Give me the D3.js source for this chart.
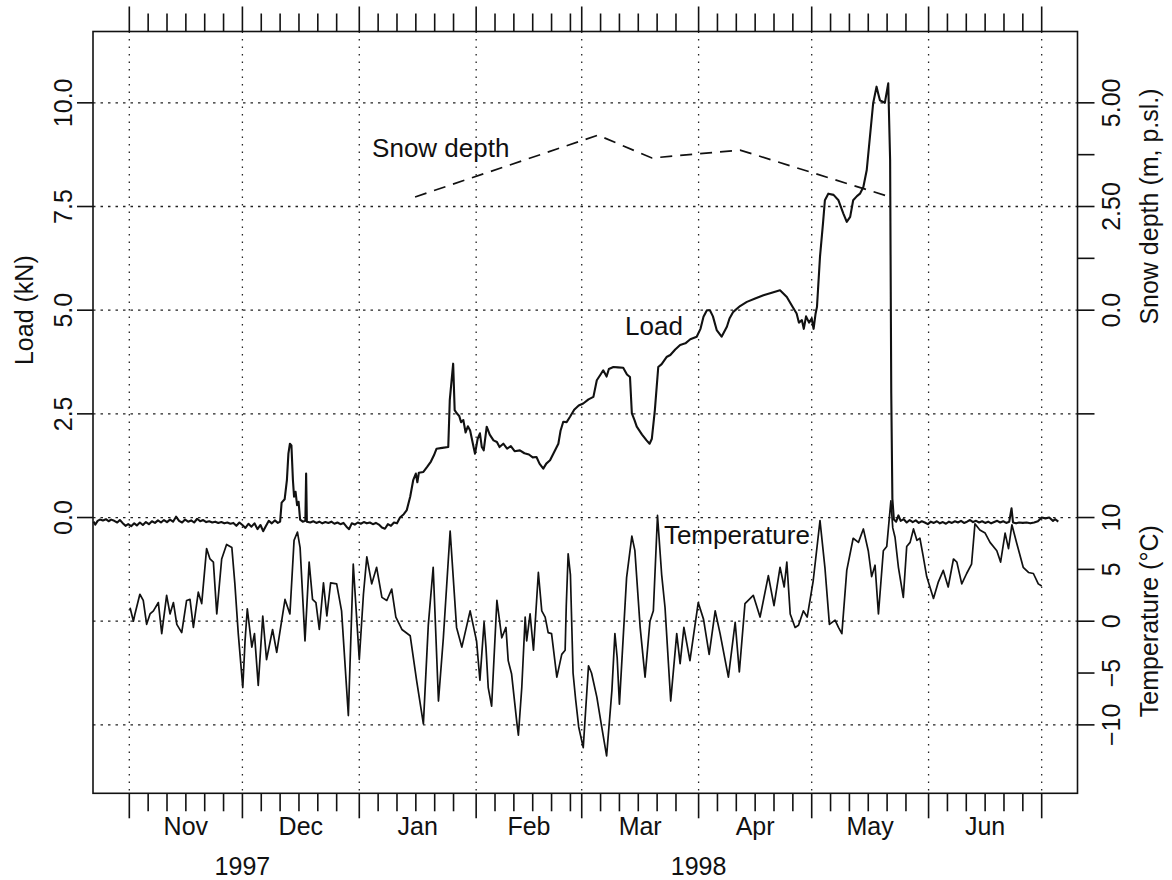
<!DOCTYPE html>
<html>
<head>
<meta charset="utf-8">
<script src="https://cdn.jsdelivr.net/npm/d3@7"></script>
<style>
  body { margin: 0; background: #fff; }
  svg { display: block; font-family: "Liberation Sans", Arial, Helvetica, sans-serif; }
</style>
</head>
<body>
<div id="chart"></div>
<script>
// time is kept as days counted from 1 Nov 1997 (logger day number)
const recordStart = Date.UTC(1997, 10, 1);

// load on the anchor (kN)
const loadSeries = [
  [-9.5, -0.10], [-9.0, -0.17], [-8.4, -0.08], [-7.8, -0.05], [-7.0, -0.07], [-6.2, -0.04], [-5.5, -0.09],
  [-4.8, -0.05], [-4.0, -0.08], [-3.2, -0.12], [-2.5, -0.06], [-1.8, -0.13], [-1.0, -0.20], [-0.3, -0.16],
  [0.5, -0.21], [1.3, -0.14], [2.0, -0.19], [2.8, -0.12], [3.6, -0.18], [4.4, -0.11], [5.2, -0.16],
  [6.0, -0.09], [6.8, -0.13], [7.6, -0.07], [8.4, -0.12], [9.2, -0.06], [10.0, -0.11], [10.8, -0.05],
  [11.6, -0.10], [12.4, 0.02], [13.2, -0.08], [14.0, -0.12], [14.8, -0.05], [15.6, -0.10], [16.4, -0.07],
  [17.2, -0.12], [18.0, -0.03], [18.8, -0.09], [19.6, -0.06], [20.4, -0.11], [21.2, -0.09], [22.0, -0.12],
  [22.8, -0.10], [23.6, -0.13], [24.4, -0.11], [25.2, -0.14], [26.0, -0.12], [26.8, -0.15], [27.6, -0.13],
  [28.4, -0.20], [29.2, -0.12], [30.0, -0.18], [30.8, -0.25], [31.6, -0.15], [32.4, -0.22], [33.2, -0.14],
  [34.0, -0.28], [34.8, -0.18], [35.5, -0.33], [36.2, -0.21], [37.0, -0.08], [37.8, -0.14], [38.6, -0.07],
  [39.4, -0.13], [40.0, -0.10], [40.4, 0.36], [41.2, 0.44], [41.8, 0.90], [42.2, 1.54], [42.6, 1.78],
  [43.0, 1.74], [43.4, 0.90], [43.7, 0.50], [44.1, 0.62], [44.5, 0.30], [44.9, 0.38], [45.3, -0.05],
  [46.0, -0.10], [46.7, -0.08], [46.9, 1.06], [47.1, -0.10], [48.0, -0.12], [48.8, -0.09], [49.6, -0.13],
  [50.4, -0.10], [51.2, -0.14], [52.0, -0.11], [52.8, -0.13], [53.6, -0.10], [54.4, -0.15], [55.2, -0.12],
  [56.0, -0.16], [56.8, -0.13], [57.6, -0.22], [58.3, -0.28], [59.0, -0.14], [59.8, -0.17], [60.6, -0.12],
  [61.4, -0.15], [62.2, -0.11], [63.0, -0.14], [63.8, -0.12], [64.6, -0.16], [65.4, -0.13], [66.2, -0.17],
  [67.0, -0.24], [67.8, -0.27], [68.6, -0.16], [69.4, -0.20], [70.2, -0.12], [71.0, -0.14], [71.8, 0.00],
  [72.8, 0.08], [73.6, 0.18], [74.5, 0.50], [75.3, 0.90], [76.0, 1.06], [76.4, 0.85], [76.8, 1.08],
  [78.0, 1.10], [79.0, 1.22], [80.0, 1.35], [80.8, 1.50], [81.5, 1.66], [83.0, 1.68], [84.6, 1.70],
  [85.0, 2.83], [85.9, 3.71], [86.3, 2.59], [86.8, 2.52], [87.5, 2.45], [88.0, 2.30], [88.6, 2.35],
  [89.2, 2.05], [89.8, 2.20], [90.4, 2.10], [91.2, 1.75], [91.7, 1.54], [92.4, 1.90], [93.0, 2.03],
  [93.5, 1.70], [94.0, 1.62], [94.8, 2.19], [95.6, 2.00], [96.6, 1.86], [97.5, 1.82], [98.2, 1.70],
  [99.2, 1.78], [100.2, 1.66], [101.2, 1.72], [102.2, 1.60], [103.6, 1.62], [104.8, 1.55], [106.0, 1.52],
  [107.0, 1.45], [108.0, 1.46], [108.8, 1.30], [109.8, 1.18], [110.6, 1.30], [111.6, 1.38], [112.8, 1.60],
  [113.8, 1.78], [114.4, 2.10], [115.1, 2.31], [116.0, 2.30], [116.9, 2.43], [118.0, 2.60], [119.2, 2.70],
  [120.4, 2.75], [121.8, 2.85], [123.1, 2.91], [124.0, 3.31], [125.0, 3.45], [125.7, 3.55], [126.6, 3.40],
  [127.2, 3.58], [128.4, 3.63], [129.6, 3.62], [131.0, 3.61], [132.0, 3.45], [132.8, 3.39], [133.3, 2.51],
  [134.0, 2.35], [134.6, 2.19], [136.0, 2.00], [137.2, 1.86], [138.0, 1.78], [138.6, 1.90], [139.4, 2.59],
  [140.3, 3.63], [141.2, 3.70], [142.5, 3.87], [143.5, 3.92], [144.8, 4.05], [146.1, 4.16], [147.5, 4.20],
  [148.8, 4.30], [150.5, 4.36], [151.5, 4.55], [152.3, 4.84], [153.2, 5.00], [154.0, 5.00], [154.8, 4.85],
  [155.8, 4.52], [157.1, 4.36], [158.5, 4.60], [159.2, 4.80], [160.2, 4.96], [162.0, 5.10], [163.8, 5.20],
  [166.0, 5.28], [168.2, 5.36], [170.4, 5.42], [172.6, 5.48], [174.4, 5.32], [175.8, 5.10], [177.0, 4.92],
  [177.6, 4.70], [178.4, 4.76], [178.9, 4.55], [179.5, 4.85], [180.3, 4.70], [181.0, 4.80], [181.5, 4.55],
  [182.0, 4.90], [182.4, 5.08], [183.2, 6.29], [184.0, 7.10], [184.5, 7.65], [185.4, 7.81], [186.8, 7.78],
  [188.1, 7.65], [189.4, 7.33], [190.3, 7.13], [191.2, 7.25], [192.0, 7.65], [193.0, 7.75], [193.8, 7.81],
  [194.7, 7.97], [195.6, 8.38], [197.3, 9.99], [198.2, 10.39], [198.7, 10.20], [199.1, 10.06], [200.0, 10.02],
  [200.4, 10.00], [201.3, 10.47], [201.8, 8.62], [202.1, 3.00], [202.4, 0.45], [202.8, -0.05], [203.4, -0.10],
  [204.0, 0.05], [204.6, -0.08], [205.4, -0.04], [206.2, -0.12], [207.0, -0.06], [207.8, -0.11], [208.6, -0.07],
  [209.4, -0.13], [210.2, -0.09], [211.0, -0.12], [211.8, -0.16], [212.6, -0.10], [213.4, -0.13], [214.2, -0.09],
  [215.0, -0.14], [215.8, -0.11], [216.6, -0.15], [217.4, -0.10], [218.2, -0.13], [219.0, -0.09], [219.8, -0.12],
  [220.6, -0.08], [221.4, -0.13], [222.2, -0.10], [223.0, -0.06], [223.8, -0.11], [224.6, -0.08], [225.4, -0.12],
  [226.2, -0.09], [227.0, -0.13], [227.8, -0.10], [228.6, -0.14], [229.4, -0.11], [230.2, -0.08], [231.0, -0.12],
  [231.8, -0.09], [232.6, -0.13], [233.4, -0.10], [234.0, 0.22], [234.4, -0.12], [235.2, -0.14], [236.0, -0.12],
  [237.0, -0.13], [238.0, -0.12], [239.0, -0.14], [240.0, -0.12], [241.0, -0.09], [242.0, 0.00], [243.0, -0.02],
  [244.0, 0.00], [245.0, -0.08], [245.6, -0.04], [246.4, -0.10],
];

// air temperature (°C)
const tempSeries = [
  [0.2, 1.3], [1.1, 0.0], [1.5, 0.7], [2.8, 2.6], [3.7, 2.0], [4.6, -0.3], [5.5, 0.7], [6.4, 1.0],
  [7.7, 1.8], [8.6, -1.2], [9.9, 2.5], [10.8, 0.7], [11.7, 1.8], [12.6, -0.3], [13.9, -1.1], [15.2, 2.0],
  [16.1, 2.1], [17.0, -0.6], [18.3, 2.8], [19.2, 1.7], [20.5, 7.0], [21.4, 6.0], [22.3, 5.7], [23.2, 0.7],
  [24.5, 6.0], [25.8, 7.4], [27.2, 7.1], [28.0, 3.6], [28.9, -1.2], [30.1, -6.4], [30.7, -1.9], [31.3, 1.2],
  [32.5, -2.5], [33.2, -1.2], [34.2, -6.2], [35.4, 0.5], [36.4, -3.7], [38.0, -0.8], [39.1, -3.0], [41.3, 2.1],
  [42.6, 0.7], [43.7, 7.8], [44.6, 8.6], [45.3, 7.1], [46.6, -1.9], [47.7, 5.7], [48.6, 2.1], [49.5, 1.8],
  [50.4, -0.8], [51.5, 3.7], [52.4, 0.5], [53.4, 3.7], [55.0, 3.6], [56.3, 1.0], [58.1, -9.1], [59.4, 5.5],
  [61.0, -3.7], [62.1, 2.6], [63.0, 6.2], [64.3, 3.6], [65.6, 5.2], [67.0, 2.3], [68.3, 2.0], [69.6, 3.1],
  [70.7, 0.4], [72.3, -0.8], [74.5, -1.4], [76.2, -5.7], [78.0, -9.9], [79.3, -0.4], [80.6, 5.2], [82.0, -7.7],
  [83.3, -1.6], [85.1, 8.7], [86.8, -0.6], [88.2, -2.5], [90.4, 1.0], [92.1, -1.9], [93.0, -5.7], [94.1, -0.1],
  [94.6, -2.5], [95.2, -6.4], [96.1, -8.2], [97.5, 2.0], [98.8, -1.6], [99.9, -0.6], [100.5, -3.8], [101.4, -5.1],
  [102.8, -9.8], [103.2, -11.0], [104.1, -6.4], [105.0, 0.4], [105.4, -1.9], [106.3, 0.7], [107.2, -2.8],
  [108.5, 4.7], [109.4, 1.0], [110.3, 0.4], [111.1, -1.1], [112.0, -1.2], [113.4, -5.4], [114.7, -3.2],
  [115.6, -2.8], [115.9, 1.5], [116.4, 6.5], [117.0, 4.5], [117.7, -5.0], [118.4, -7.6], [119.2, -10.2],
  [120.4, -12.2], [121.8, -4.3], [122.6, -5.0], [124.0, -7.3], [125.3, -10.2], [126.6, -13.0], [128.0, -6.7],
  [128.8, -1.2], [129.4, -3.5], [130.0, -8.0], [131.9, 4.2], [133.3, 8.2], [134.1, 6.8], [135.5, -0.6],
  [136.8, -5.4], [138.1, 0.0], [139.0, 1.0], [140.1, 10.2], [141.2, 4.5], [142.1, 1.3], [143.6, -7.7],
  [145.2, -1.2], [146.1, -4.1], [147.1, -0.6], [148.7, -3.8], [150.9, 1.8], [152.3, 0.2], [153.8, -3.2],
  [155.4, 1.0], [156.7, -1.2], [158.9, -5.4], [160.7, -0.1], [161.8, -4.9], [163.3, 1.7], [165.5, 2.5],
  [167.3, 0.4], [169.5, 4.4], [171.0, 1.5], [172.6, 5.2], [173.7, 3.3], [174.4, 5.7], [175.3, 0.7],
  [176.6, -0.6], [177.5, -0.4], [178.8, 1.0], [179.8, 0.4], [181.4, 3.9], [183.2, 9.7], [184.5, 5.2],
  [185.7, -0.3], [187.2, 0.1], [188.1, -0.6], [189.0, -1.2], [190.3, 4.9], [192.0, 8.0], [193.4, 7.6],
  [194.7, 8.9], [196.0, 6.8], [196.9, 4.3], [197.8, 5.4], [198.7, 0.7], [200.0, 6.8], [200.9, 7.2],
  [202.0, 11.6], [202.5, 9.0], [203.1, 8.1], [204.0, 5.2], [205.3, 2.3], [206.2, 7.2], [207.1, 7.6],
  [208.0, 8.9], [208.9, 7.8], [209.7, 8.0], [210.6, 6.2], [211.5, 4.3], [213.3, 2.2], [214.6, 3.8],
  [215.9, 4.9], [217.2, 3.3], [218.6, 6.0], [219.5, 5.7], [220.8, 3.6], [222.1, 4.6], [223.4, 5.5],
  [224.3, 9.4], [225.6, 8.8], [227.0, 8.5], [228.3, 7.6], [230.1, 6.8], [231.1, 5.7], [232.3, 8.5],
  [233.2, 7.0], [234.1, 9.3], [235.4, 7.5], [237.1, 5.2], [238.5, 4.7], [239.8, 4.6], [241.1, 3.6],
  [242.0, 3.4],
];

// snow depth soundings (m)
const snowSeries = [[75.8, 2.73], [124.3, 4.22], [138.6, 3.67], [162.0, 3.86], [201.8, 2.73]];

const monthNames = ['Nov', 'Dec', 'Jan', 'Feb', 'Mar', 'Apr', 'May', 'Jun'];
const yearLabels = [['1997', '1997-12-01'], ['1998', '1998-04-01']];
const minorTickDays = [6, 11, 16, 21, 26];
const loadTicks = [0, 2.5, 5, 7.5, 10];
const snowTicks = [5, 3.75, 2.5, 1.25, 0, -2.5];
const snowTickLabels = [['5.00', 5], ['2.50', 2.5], ['0.0', 0]];
const tempTicks = [10, 5, 0, -5, -10];
const tempGrid = [0, -10];

const width = 1172;
const height = 880;
const margin = { top: 31.5, right: 94.5, bottom: 86.7, left: 93 };
const fontSize = 25;

const toDate = (d) => new Date(recordStart + d * 864e5);

const svg = d3.select('#chart')
  .append('svg')
  .attr('width', width)
  .attr('height', height);

const x = d3.scaleUtc()
  .domain([toDate(-9.63), toDate(251.5)])
  .range([margin.left, width - margin.right]);

// load is the master scale; temperature and snow depth are re-scaled onto it
const y = d3.scaleLinear()
  .domain([-6.65, 11.72])
  .range([height - margin.bottom, margin.top]);
const yTemp = d3.scaleLinear()
  .domain(y.domain().map((v) => v * 4 + 10))
  .range(y.range());
const ySnow = d3.scaleLinear()
  .domain(y.domain().map((v) => v - 5))
  .range(y.range());

const plotLeft = margin.left;
const plotRight = width - margin.right;
const plotTop = margin.top;
const plotBottom = height - margin.bottom;

const months = d3.utcMonth.range(new Date(Date.UTC(1997, 10, 1)), new Date(Date.UTC(1998, 6, 2)));
const minorTicks = [];
months.slice(0, -1).forEach((m) => {
  minorTickDays.forEach((d) => minorTicks.push(new Date(Date.UTC(m.getUTCFullYear(), m.getUTCMonth(), d))));
});

// grid
const grid = svg.append('g')
  .attr('stroke', '#222')
  .attr('stroke-width', 1.3)
  .attr('fill', 'none');
grid.selectAll('.vgrid')
  .data(months)
  .enter()
  .append('line')
  .attr('x1', (d) => x(d))
  .attr('x2', (d) => x(d))
  .attr('y1', plotTop)
  .attr('y2', plotBottom)
  .attr('stroke-dasharray', '1.5,6');
grid.selectAll('.hgrid')
  .data(loadTicks.map((v) => y(v)).concat(tempGrid.map((v) => yTemp(v))))
  .enter()
  .append('line')
  .attr('x1', plotLeft)
  .attr('x2', plotRight)
  .attr('y1', (d) => d)
  .attr('y2', (d) => d)
  .attr('stroke-dasharray', '2.5,5');

// series
const loadLine = d3.line()
  .x((d) => x(toDate(d[0])))
  .y((d) => y(d[1]));
const tempLine = d3.line()
  .x((d) => x(toDate(d[0])))
  .y((d) => yTemp(d[1]));
const snowLine = d3.line()
  .x((d) => x(toDate(d[0])))
  .y((d) => ySnow(d[1]));

svg.append('path')
  .datum(tempSeries)
  .attr('d', tempLine)
  .attr('fill', 'none')
  .attr('stroke', '#111')
  .attr('stroke-width', 1.7)
  .attr('stroke-linejoin', 'round');
svg.append('path')
  .datum(loadSeries)
  .attr('d', loadLine)
  .attr('fill', 'none')
  .attr('stroke', '#111')
  .attr('stroke-width', 2.1)
  .attr('stroke-linejoin', 'round');
svg.append('path')
  .datum(snowSeries)
  .attr('d', snowLine)
  .attr('fill', 'none')
  .attr('stroke', '#111')
  .attr('stroke-width', 1.7)
  .attr('stroke-dasharray', '12,8');

// frame
svg.append('rect')
  .attr('x', plotLeft)
  .attr('y', plotTop)
  .attr('width', plotRight - plotLeft)
  .attr('height', plotBottom - plotTop)
  .attr('fill', 'none')
  .attr('stroke', '#111')
  .attr('stroke-width', 1.6);

// time ticks, top and bottom
const ticks = svg.append('g').attr('stroke', '#111').attr('stroke-width', 1.6);
[[plotBottom, 1], [plotTop, -1]].forEach(([y0, dir]) => {
  ticks.append('g').selectAll('line')
    .data(months)
    .enter()
    .append('line')
    .attr('x1', (d) => x(d))
    .attr('x2', (d) => x(d))
    .attr('y1', y0)
    .attr('y2', y0 + dir * 25);
  ticks.append('g').selectAll('line')
    .data(minorTicks)
    .enter()
    .append('line')
    .attr('x1', (d) => x(d))
    .attr('x2', (d) => x(d))
    .attr('y1', y0)
    .attr('y2', y0 + dir * 18);
});

// value ticks
ticks.append('g').selectAll('line')
  .data(loadTicks)
  .enter()
  .append('line')
  .attr('x1', plotLeft)
  .attr('x2', plotLeft - 16)
  .attr('y1', (d) => y(d))
  .attr('y2', (d) => y(d));
ticks.append('g').selectAll('line')
  .data(snowTicks.map((v) => ySnow(v)).concat(tempTicks.map((v) => yTemp(v))))
  .enter()
  .append('line')
  .attr('x1', plotRight)
  .attr('x2', plotRight + 17)
  .attr('y1', (d) => d)
  .attr('y2', (d) => d);

const labels = svg.append('g')
  .attr('fill', '#111')
  .attr('font-size', fontSize)
  .attr('text-anchor', 'middle');

const vertical = (g, text, px, py) => g.append('text')
  .attr('transform', `translate(${px},${py}) rotate(-90)`)
  .text(text);

loadTicks.forEach((v) => vertical(labels, d3.format('.1f')(v), 72, y(v)));
snowTickLabels.forEach(([t, v]) => vertical(labels, t, 1120, ySnow(v)));
tempTicks.forEach((v) => vertical(labels, d3.format('d')(v).replace('-', '\u2212'), 1120, yTemp(v)));

vertical(labels, 'Load (kN)', 33, y(5));
vertical(labels, 'Snow depth (m, p.sl.)', 1158, ySnow(2.5));
vertical(labels, 'Temperature (°C)', 1158, yTemp(0));

labels.selectAll('.month')
  .data(months.slice(0, -1))
  .enter()
  .append('text')
  .attr('x', (d, i) => (x(d) + x(months[i + 1])) / 2)
  .attr('y', 835)
  .text((d, i) => monthNames[i]);

labels.selectAll('.year')
  .data(yearLabels)
  .enter()
  .append('text')
  .attr('x', (d) => x(new Date(d[1])))
  .attr('y', 875)
  .text((d) => d[0]);

// in-plot annotations
const notes = svg.append('g')
  .attr('fill', '#111')
  .attr('font-size', 26);
notes.append('text')
  .attr('x', x(toDate(64.4)))
  .attr('y', ySnow(3.69))
  .text('Snow depth');
notes.append('text')
  .attr('x', x(toDate(131.5)))
  .attr('y', y(4.4))
  .text('Load');
notes.append('text')
  .attr('x', x(toDate(141.8)))
  .attr('y', yTemp(7.47))
  .text('Temperature');
</script>
</body>
</html>
